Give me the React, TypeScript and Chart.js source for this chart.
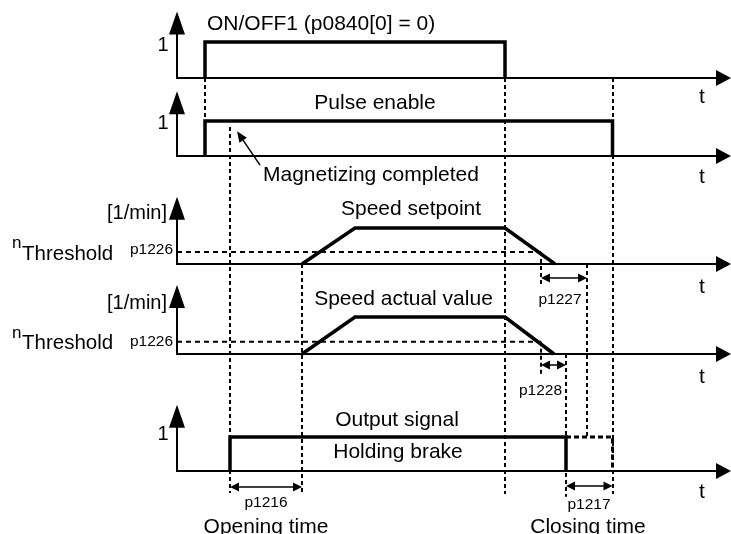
import React, { useEffect, useRef } from "react";
import { Chart, registerables } from "chart.js";

Chart.register(...registerables);

// ---------------- data (time in ms) ----------------
const onOffT = [56, 56, 656, 656];
const onOffV = [0, 1, 1, 0];
const pulseT = [56, 56, 871, 871];
const pulseV = [0, 1, 1, 0];
const setpointT = [250, 356, 656, 756];
const setpointV = [0, 1500, 1500, 0];
const actualT = [250, 356, 656, 754];
const actualV = [0, 1500, 1500, 0];
const brakeT = [106, 106, 778, 778];
const brakeV = [0, 1, 1, 0];
const brakeDelayT = [778, 871, 871];
const brakeDelayV = [1, 1, 0];
const thresholdT = [0, 728];
const thresholdV = [500, 500];

// vertical guide lines
const guideT = [56, 106, 250, 656, 728, 728, 778, 820, 871];
const guideFromRow = ["r1", "r2", "r3", "r1", "r3", "r4", "r4", "r3", "r1"];
const guideFromV = [0, 0.83, 0, 0, 500, 500, 0, 0, 0];
const guideToRow = ["r2", "r5", "r5", "r5", "r3", "r4", "r5", "r5", "r5"];
const guideToV = [1, -0.65, -0.65, -0.68, -958, -851, -0.76, 1, -0.68];

// dimension arrows
const dimFrom = [106, 778, 728, 728];
const dimTo = [250, 871, 820, 778];
const dimRow = ["r5", "r5", "r3", "r4"];
const dimV = [-0.47, -0.44, -583, -446];

// labels
const labelText = [
  "ON/OFF1 (p0840[0] = 0)",
  "Pulse enable",
  "Magnetizing completed",
  "Speed setpoint",
  "Speed actual value",
  "Output signal",
  "Holding brake",
  "p1216",
  "Opening time",
  "p1217",
  "Closing time",
  "p1227",
  "p1228",
  "[1/min]",
  "[1/min]",
  "p1226",
  "p1226",
  "Threshold",
  "Threshold",
  "n",
  "n",
  "1",
  "1",
  "1",
  "t",
  "t",
  "t",
  "t",
  "t",
];
const labelT = [60, 396, 172, 468, 453, 440, 442, 178, 178, 824, 822, 766, 727, -20, -20, -8, -8, -310, -310, -330, -330, -28, -28, -28, 1050, 1050, 1050, 1050, 1050];
const labelRow = ["r1", "r2", "r2", "r3", "r4", "r5", "r5", "r5", "r5", "r5", "r5", "r3", "r4", "r3", "r4", "r3", "r4", "r3", "r4", "r3", "r4", "r1", "r2", "r5", "r1", "r2", "r3", "r4", "r5"];
const labelV = [1.5, 1.51, -0.54, 2292, 2230, 1.5, 0.56, -0.94, -1.64, -1.0, -1.64, -1500, -1500, 2125, 2068, 583, 486, 417, 426, 875, 851, 0.9, 0.92, 1.08, -0.53, -0.6, -958, -932, -0.62];
const labelAlign = ["left", "center", "left", "center", "center", "center", "center", "center", "center", "center", "center", "center", "center", "right", "right", "right", "right", "left", "left", "left", "left", "center", "center", "center", "center", "center", "center", "center", "center"];
const labelSize = [21, 21, 21, 21, 21, 21, 21, 15.5, 21, 15.5, 21, 15.5, 15.5, 20, 20, 15.5, 15.5, 20.5, 20.5, 17, 17, 20, 20, 20, 21, 21, 21, 21, 21];

// ---------------- layout ----------------
const W = 731;
const H = 534;
const AXIS_PX = 177;
const PX_PER_MS = 0.5;
const rows = [
  { id: "r1", base: 78, level: 42, full: 1, tip: 1.85 },
  { id: "r2", base: 156, level: 121, full: 1, tip: 1.85 },
  { id: "r3", base: 264, level: 228, full: 1500, tip: 2800 },
  { id: "r4", base: 354, level: 317, full: 1500, tip: 2800 },
  { id: "r5", base: 471, level: 437, full: 1, tip: 1.95 },
];
const FONT = '"Liberation Sans", Arial, Helvetica, sans-serif';

function pts(t: number[], v: number[]) {
  return t.map((x, i) => ({ x, y: v[i] }));
}

const diagramPlugin = {
  id: "diagram",
  beforeDatasetsDraw(chart: any) {
    const ctx = chart.ctx as CanvasRenderingContext2D;
    const xs = chart.scales.x;
    const x0 = xs.getPixelForValue(0);
    const xEnd = xs.getPixelForValue(xs.max);
    ctx.save();
    ctx.strokeStyle = "#000";
    ctx.fillStyle = "#000";
    // guides
    ctx.lineWidth = 2;
    ctx.setLineDash([4, 3]);
    guideT.forEach((t, i) => {
      const x = Math.round(xs.getPixelForValue(t));
      const y1 = chart.scales[guideFromRow[i]].getPixelForValue(guideFromV[i]);
      const y2 = chart.scales[guideToRow[i]].getPixelForValue(guideToV[i]);
      ctx.beginPath();
      ctx.moveTo(x, y1);
      ctx.lineTo(x, y2);
      ctx.stroke();
    });
    ctx.setLineDash([]);
    // axes
    for (const r of rows) {
      const s = chart.scales[r.id];
      const yb = s.getPixelForValue(0);
      const yt = s.getPixelForValue(r.tip);
      ctx.lineWidth = 2;
      ctx.beginPath();
      ctx.moveTo(x0, yb + 1);
      ctx.lineTo(x0, yt + 20);
      ctx.stroke();
      ctx.beginPath();
      ctx.moveTo(x0, yt);
      ctx.lineTo(x0 - 8, yt + 23);
      ctx.lineTo(x0 + 8, yt + 23);
      ctx.closePath();
      ctx.fill();
      ctx.beginPath();
      ctx.moveTo(x0 - 1, yb);
      ctx.lineTo(xEnd - 12, yb);
      ctx.stroke();
      ctx.beginPath();
      ctx.moveTo(xEnd, yb);
      ctx.lineTo(xEnd - 15, yb - 8);
      ctx.lineTo(xEnd - 15, yb + 8);
      ctx.closePath();
      ctx.fill();
    }
    ctx.restore();
  },
  afterDatasetsDraw(chart: any) {
    const ctx = chart.ctx as CanvasRenderingContext2D;
    const xs = chart.scales.x;
    ctx.save();
    ctx.strokeStyle = "#000";
    ctx.fillStyle = "#000";
    // dimension arrows
    ctx.lineWidth = 1.5;
    dimFrom.forEach((t, i) => {
      const xa = xs.getPixelForValue(t);
      const xb = xs.getPixelForValue(dimTo[i]);
      const y = chart.scales[dimRow[i]].getPixelForValue(dimV[i]);
      ctx.beginPath();
      ctx.moveTo(xa + 4, y);
      ctx.lineTo(xb - 4, y);
      ctx.stroke();
      ctx.beginPath();
      ctx.moveTo(xa, y);
      ctx.lineTo(xa + 9, y - 4.5);
      ctx.lineTo(xa + 9, y + 4.5);
      ctx.closePath();
      ctx.fill();
      ctx.beginPath();
      ctx.moveTo(xb, y);
      ctx.lineTo(xb - 9, y - 4.5);
      ctx.lineTo(xb - 9, y + 4.5);
      ctx.closePath();
      ctx.fill();
    });
    // magnetizing arrow
    {
      const s = chart.scales.r2;
      const xa = xs.getPixelForValue(166);
      const ya = s.getPixelForValue(-0.26);
      const xb = xs.getPixelForValue(120);
      const yb = s.getPixelForValue(0.71);
      const ang = Math.atan2(yb - ya, xb - xa);
      ctx.lineWidth = 1.5;
      ctx.beginPath();
      ctx.moveTo(xa, ya);
      ctx.lineTo(xb - Math.cos(ang) * 6, yb - Math.sin(ang) * 6);
      ctx.stroke();
      ctx.beginPath();
      ctx.moveTo(xb, yb);
      ctx.lineTo(xb - Math.cos(ang) * 11 + Math.sin(ang) * 4.5, yb - Math.sin(ang) * 11 - Math.cos(ang) * 4.5);
      ctx.lineTo(xb - Math.cos(ang) * 11 - Math.sin(ang) * 4.5, yb - Math.sin(ang) * 11 + Math.cos(ang) * 4.5);
      ctx.closePath();
      ctx.fill();
    }
    // labels
    ctx.textBaseline = "middle";
    labelText.forEach((txt, i) => {
      const x = xs.getPixelForValue(labelT[i]);
      const y = chart.scales[labelRow[i]].getPixelForValue(labelV[i]);
      ctx.font = `${labelSize[i]}px ${FONT}`;
      ctx.textAlign = labelAlign[i] as CanvasTextAlign;
      ctx.fillText(txt, x, y);
    });
    ctx.restore();
  },
};

export default function App() {
  const ref = useRef<HTMLCanvasElement | null>(null);
  useEffect(() => {
    document.body.style.margin = "0";
    const canvas = ref.current;
    if (!canvas) return;
    const scales: any = {
      x: {
        type: "linear",
        display: false,
        min: -AXIS_PX / PX_PER_MS,
        max: (W - AXIS_PX) / PX_PER_MS,
      },
    };
    for (const r of rows) {
      const ppu = (r.base - r.level) / r.full;
      const max = r.base / ppu;
      scales[r.id] = {
        type: "linear",
        position: "left",
        display: false,
        max,
        min: max - H / ppu,
      };
    }
    const line = (data: any, yAxisID: string, extra: any = {}) => ({
      data,
      yAxisID,
      borderColor: "#000",
      borderWidth: 3.5,
      pointRadius: 0,
      fill: false,
      tension: 0,
      borderJoinStyle: "miter",
      borderCapStyle: "butt",
      ...extra,
    });
    const chart = new Chart(canvas, {
      type: "line",
      data: {
        datasets: [
          line(pts(onOffT, onOffV), "r1"),
          line(pts(pulseT, pulseV), "r2"),
          line(pts(setpointT, setpointV), "r3"),
          line(pts(actualT, actualV), "r4"),
          line(pts(brakeT, brakeV), "r5"),
          line(pts(brakeDelayT, brakeDelayV), "r5", { borderWidth: 3, borderDash: [5, 3] }),
          line(pts(thresholdT, thresholdV), "r3", { borderWidth: 2, borderDash: [5, 4] }),
          line(pts(thresholdT, thresholdV), "r4", { borderWidth: 2, borderDash: [5, 4] }),
        ] as any,
      },
      options: {
        animation: false,
        responsive: false,
        devicePixelRatio: 1,
        layout: { padding: 0 },
        scales,
        plugins: { legend: { display: false }, tooltip: { enabled: false } },
        events: [],
      } as any,
      plugins: [diagramPlugin],
    });
    return () => chart.destroy();
  }, []);
  return (
    <div style={{ position: "absolute", left: 0, top: 0, width: W, height: H, background: "#fff" }}>
      <canvas ref={ref} width={W} height={H} />
    </div>
  );
}
